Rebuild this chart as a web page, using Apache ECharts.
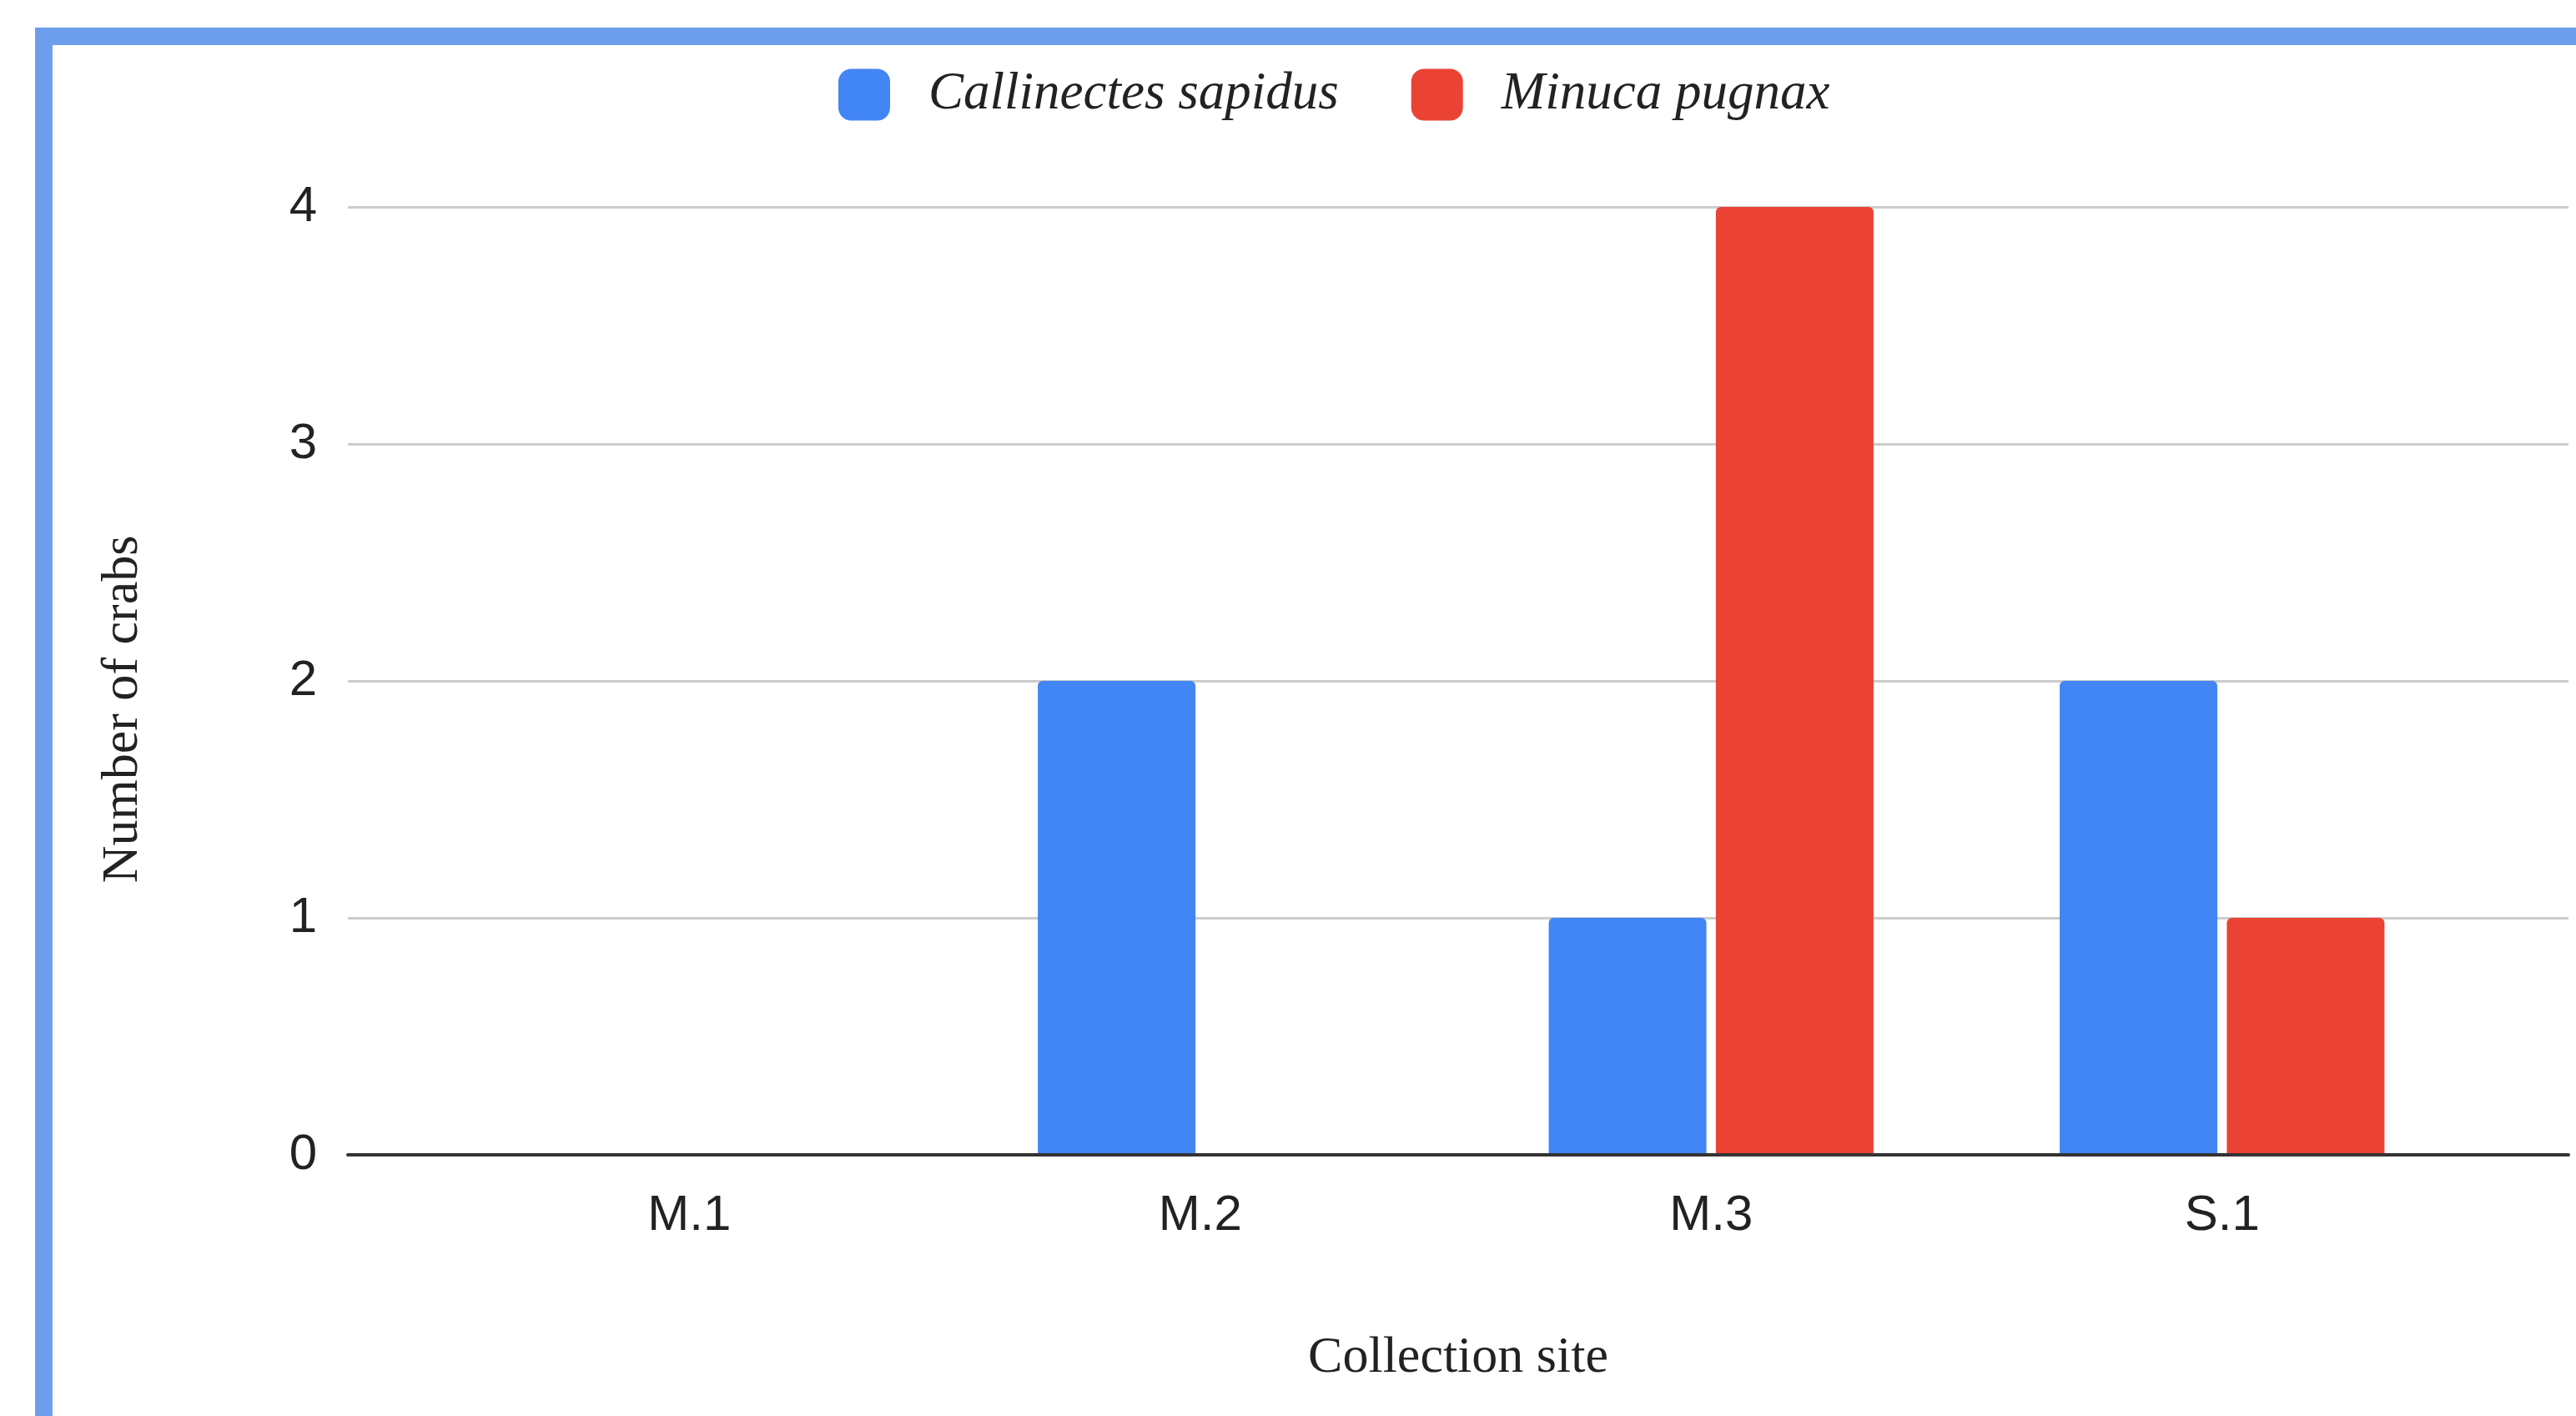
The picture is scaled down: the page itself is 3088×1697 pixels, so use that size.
<!DOCTYPE html>
<html>
<head>
<meta charset="utf-8">
<script src="https://cdn.jsdelivr.net/npm/echarts@6/dist/echarts.min.js"></script>
<style>
html,body{margin:0;padding:0;background:#fff;}
#chart{width:3088px;height:1697px;}
</style>
</head>
<body>
<div id="chart"></div>
<script>
const categories = ['M.1', 'M.2', 'M.3', 'S.1'];
const callinectes = [0, 2, 1, 2];
const minuca = [0, 0, 4, 1];
const yTicks = [0, 1, 2, 3, 4];
const seriesNames = ['Callinectes sapidus', 'Minuca pugnax'];
const xTitle = 'Collection site';
const yTitle = 'Number of crabs';

const chart = echarts.init(document.getElementById('chart'));
const sans = 'Arial, "Liberation Sans", sans-serif';
const serif = '"Times New Roman", "Liberation Serif", serif';

chart.setOption({
  backgroundColor: '#ffffff',
  animation: false,
  legend: {
    data: seriesNames,
    left: 1000,
    top: 77,
    itemWidth: 62,
    itemHeight: 62,
    itemGap: 87,
    icon: 'roundRect',
    textStyle: {
      fontFamily: serif,
      fontStyle: 'italic',
      fontSize: 63,
      color: '#222222',
      padding: [0, 0, 0, 41]
    }
  },
  grid: [
    { left: 520, right: 118, top: 248, bottom: 313 },
    { left: 417, right: 9, top: 248, bottom: 313 }
  ],
  xAxis: [
    {
      type: 'category',
      gridIndex: 0,
      data: categories,
      boundaryGap: true,
      axisLine: { show: false },
      axisTick: { show: false },
      axisLabel: { fontFamily: sans, fontSize: 60, color: '#222222', margin: 43 }
    },
    {
      type: 'value',
      gridIndex: 1,
      min: 0,
      max: 1,
      z: 5,
      axisLine: { show: true, onZero: false, lineStyle: { color: '#333333', width: 4 } },
      axisTick: { show: false },
      axisLabel: { show: false },
      splitLine: { show: false }
    }
  ],
  yAxis: [
    {
      type: 'value',
      gridIndex: 0,
      min: yTicks[0],
      max: yTicks[yTicks.length - 1],
      interval: 1,
      axisLine: { show: false },
      axisTick: { show: false },
      axisLabel: { show: false },
      splitLine: { show: false }
    },
    {
      type: 'value',
      gridIndex: 1,
      min: yTicks[0],
      max: yTicks[yTicks.length - 1],
      interval: 1,
      axisLine: { show: false },
      axisTick: { show: false },
      axisLabel: { fontFamily: sans, fontSize: 60, color: '#222222', margin: 37 },
      splitLine: { show: true, lineStyle: { color: '#cccccc', width: 3 } }
    }
  ],
  series: [
    {
      name: seriesNames[0],
      type: 'bar',
      xAxisIndex: 0,
      yAxisIndex: 0,
      data: callinectes,
      barWidth: 189,
      barGap: '6%',
      itemStyle: { color: '#4285f4', borderRadius: [6, 6, 0, 0] }
    },
    {
      name: seriesNames[1],
      type: 'bar',
      xAxisIndex: 0,
      yAxisIndex: 0,
      data: minuca,
      barWidth: 189,
      barGap: '6%',
      itemStyle: { color: '#ea4335', borderRadius: [6, 6, 0, 0] }
    }
  ],
  graphic: [
    {
      type: 'rect',
      silent: true,
      z: 10,
      shape: { x: 52.5, y: 43.5, width: 4000, height: 4000 },
      style: { fill: 'none', stroke: '#6d9eeb', lineWidth: 21 }
    },
    {
      type: 'text',
      x: 148,
      y: 850,
      rotation: Math.PI / 2,
      style: {
        text: yTitle,
        fontFamily: serif,
        fontSize: 62,
        fill: '#222222',
        align: 'center',
        verticalAlign: 'middle'
      }
    },
    {
      type: 'text',
      x: 1748,
      y: 1628,
      style: {
        text: xTitle,
        fontFamily: serif,
        fontSize: 62,
        fill: '#222222',
        align: 'center',
        verticalAlign: 'middle'
      }
    }
  ]
});
</script>
</body>
</html>
